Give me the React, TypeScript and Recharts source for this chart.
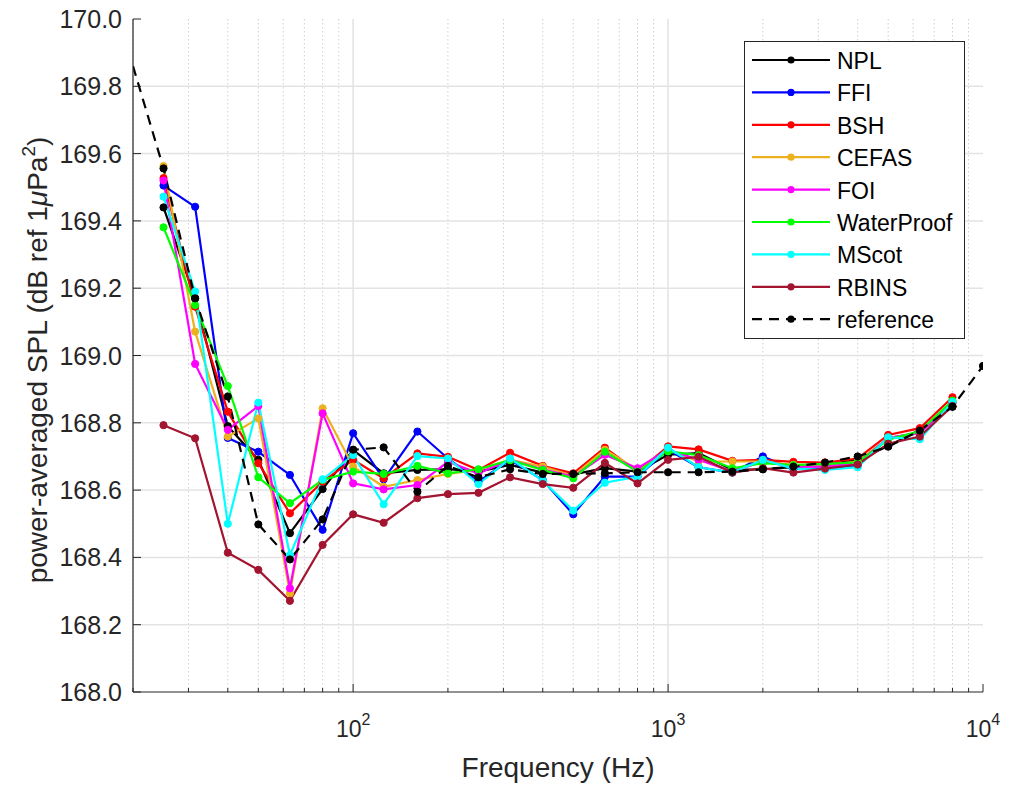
import React from 'react';
import { LineChart, Line, XAxis, YAxis, CartesianGrid } from 'recharts';

const freqs = [25, 31.5, 40, 50, 63, 80, 100, 125, 160, 200, 250, 315, 400, 500, 630, 800, 1000, 1250, 1600, 2000, 2500, 3150, 4000, 5000, 6300, 8000];
const refFreqs = [20, 25, 31.5, 40, 50, 63, 80, 100, 125, 160, 200, 250, 315, 400, 500, 630, 800, 1000, 1250, 1600, 2000, 2500, 3150, 4000, 5000, 6300, 8000, 10000];

const npl = [169.44, 169.17, 168.79, 168.69, 168.472, 168.603, 168.719, 168.65, 168.66, 168.662, 168.655, 168.675, 168.652, 168.647, 168.665, 168.655, 168.705, 168.71, 168.66, 168.662, 168.668, 168.675, 168.69, 168.731, 168.779, 168.848];
const ffi = [169.505, 169.442, 168.755, 168.714, 168.645, 168.482, 168.769, 168.632, 168.774, 168.694, 168.625, 168.69, 168.63, 168.528, 168.64, 168.64, 168.72, 168.668, 168.652, 168.7, 168.662, 168.665, 168.672, 168.755, 168.77, 168.86];
const bsh = [169.527, 169.145, 168.833, 168.68, 168.531, 168.625, 168.69, 168.635, 168.709, 168.699, 168.66, 168.711, 168.672, 168.65, 168.726, 168.655, 168.73, 168.721, 168.687, 168.69, 168.684, 168.682, 168.694, 168.764, 168.784, 168.876];
const cefas = [169.563, 169.071, 168.759, 168.813, 168.293, 168.843, 168.67, 168.61, 168.63, 168.648, 168.66, 168.69, 168.67, 168.642, 168.72, 168.66, 168.72, 168.685, 168.685, 168.685, 168.675, 168.675, 168.685, 168.755, 168.77, 168.865];
const foi = [169.52, 168.975, 168.779, 168.85, 168.308, 168.828, 168.62, 168.602, 168.615, 168.684, 168.65, 168.69, 168.662, 168.64, 168.705, 168.665, 168.72, 168.69, 168.655, 168.685, 168.67, 168.67, 168.68, 168.755, 168.77, 168.86];
const waterproof = [169.381, 169.15, 168.909, 168.638, 168.561, 168.63, 168.655, 168.648, 168.672, 168.65, 168.662, 168.689, 168.66, 168.635, 168.714, 168.655, 168.715, 168.704, 168.665, 168.68, 168.674, 168.678, 168.682, 168.75, 168.775, 168.866];
const mscot = [169.472, 169.19, 168.5, 168.86, 168.407, 168.632, 168.704, 168.558, 168.701, 168.694, 168.618, 168.694, 168.628, 168.539, 168.622, 168.64, 168.726, 168.668, 168.652, 168.69, 168.664, 168.66, 168.668, 168.757, 168.751, 168.862];
const rbins = [168.793, 168.754, 168.414, 168.363, 168.271, 168.437, 168.528, 168.503, 168.576, 168.588, 168.592, 168.638, 168.618, 168.607, 168.681, 168.62, 168.69, 168.699, 168.652, 168.665, 168.652, 168.664, 168.676, 168.738, 168.759, 168.85];
const reference = [169.86, 169.556, 169.17, 168.878, 168.498, 168.394, 168.513, 168.72, 168.727, 168.595, 168.672, 168.638, 168.662, 168.648, 168.648, 168.65, 168.653, 168.653, 168.653, 168.655, 168.662, 168.67, 168.682, 168.7, 168.729, 168.777, 168.848, 168.969];

const seriesNames = ['NPL', 'FFI', 'BSH', 'CEFAS', 'FOI', 'WaterProof', 'MScot', 'RBINS'];
const seriesValues = [npl, ffi, bsh, cefas, foi, waterproof, mscot, rbins];
const seriesColors = ['#000000', '#0000ff', '#ff0000', '#edb120', '#ff00ff', '#00ff00', '#00ffff', '#a2142f'];
const referenceName = 'reference';

const yTicks = [168.0, 168.2, 168.4, 168.6, 168.8, 169.0, 169.2, 169.4, 169.6, 169.8, 170.0];
const xMajorTicks = [100, 1000, 10000];
const xMinorTicks = [20, 30, 40, 50, 60, 70, 80, 90, 200, 300, 400, 500, 600, 700, 800, 900, 2000, 3000, 4000, 5000, 6000, 7000, 8000, 9000];
const xAllTicks = [...xMinorTicks, ...xMajorTicks].sort((a, b) => a - b);

const xLabel = 'Frequency (Hz)';

const AX = '#262626';
const FONT = '"Liberation Sans", Arial, Helvetica, sans-serif';

const seriesData = seriesValues.map((vals) => freqs.map((f, i) => ({ f, v: vals[i] })));
const refData = refFreqs.map((f, i) => ({ f, v: reference[i] }));

const BottomTick = (props: any) => {
  const { x, y, payload } = props;
  const v = payload.value;
  const major = xMajorTicks.includes(v);
  const exp = Math.round(Math.log10(v));
  return (
    <g>
      <line x1={x} x2={x} y1={y} y2={y - (major ? 8 : 4)} stroke={AX} strokeWidth={1} />
      {major && (
        <text x={x} y={y + 45} textAnchor="middle" fill={AX} fontSize={23} fontFamily={FONT}>
          10<tspan dy={-12} fontSize={16}>{exp}</tspan>
        </text>
      )}
    </g>
  );
};

const TopTick = (props: any) => {
  const { x, y, payload } = props;
  const major = xMajorTicks.includes(payload.value);
  return <line x1={x} x2={x} y1={y} y2={y + (major ? 8 : 4)} stroke={AX} strokeWidth={1} />;
};

const LeftTick = (props: any) => {
  const { x, y, payload } = props;
  return (
    <g>
      <line x1={x} x2={x + 8} y1={y} y2={y} stroke={AX} strokeWidth={1} />
      <text x={x - 11} y={y + 9} textAnchor="end" fill={AX} fontSize={25} fontFamily={FONT}>
        {Number(payload.value).toFixed(1)}
      </text>
    </g>
  );
};

const RightTick = (props: any) => {
  const { x, y } = props;
  return <line x1={x} x2={x - 8} y1={y} y2={y} stroke={AX} strokeWidth={1} />;
};

const RefDot = (props: any) => {
  const { cx, cy, payload, index } = props;
  if (payload.f === 20) return <g key={`rd-${index}`} />;
  return <circle key={`rd-${index}`} cx={cx} cy={cy} r={3.6} fill="#000" stroke="#000" />;
};

const Legend = () => {
  const rowH = 32.4;
  const items = [
    ...seriesNames.map((n, i) => ({ name: n, color: seriesColors[i], dashed: false })),
    { name: referenceName, color: '#000000', dashed: true },
  ];
  return (
    <svg width={221} height={298} style={{ position: 'absolute', left: 744, top: 41 }}>
      <rect x={0.5} y={0.5} width={220} height={297} fill="#fff" stroke={AX} strokeWidth={1} />
      {items.map((it, i) => {
        const cy = 19 + i * rowH;
        return (
          <g key={it.name}>
            <line
              x1={8}
              x2={86}
              y1={cy}
              y2={cy}
              stroke={it.color}
              strokeWidth={2.2}
              strokeDasharray={it.dashed ? '10 7' : undefined}
            />
            <circle cx={47} cy={cy} r={3.6} fill={it.color} />
            <text x={93} y={cy + 9} fill="#000" fontSize={23} fontFamily={FONT}>
              {it.name}
            </text>
          </g>
        );
      })}
    </svg>
  );
};

export default function App() {
  return (
    <div style={{ position: 'absolute', left: 0, top: 0, width: 1012, height: 785, background: '#fff' }}>
      <LineChart width={1012} height={785} margin={{ top: 19, right: 29, left: 0, bottom: 0 }}>
        <CartesianGrid
          verticalValues={xMinorTicks}
          horizontal={false}
          stroke="#cfcfcf"
          strokeDasharray="1.5 2.5"
          strokeWidth={1}
        />
        <CartesianGrid
          verticalValues={[100, 1000]}
          horizontalValues={yTicks.slice(1, -1)}
          stroke="#e3e3e3"
          strokeWidth={1.5}
        />
        <XAxis
          dataKey="f"
          type="number"
          scale="log"
          domain={[20, 10000]}
          ticks={xAllTicks}
          interval={0}
          allowDataOverflow
          height={93}
          tickSize={0}
          tickMargin={0}
          tickLine={false}
          axisLine={{ stroke: AX, strokeWidth: 1.2 }}
          tick={<BottomTick />}
        />
        <XAxis
          xAxisId="top"
          orientation="top"
          dataKey="f"
          type="number"
          scale="log"
          domain={[20, 10000]}
          ticks={xAllTicks}
          interval={0}
          allowDataOverflow
          height={0}
          tickSize={0}
          tickMargin={0}
          tickLine={false}
          axisLine={{ stroke: AX, strokeWidth: 1.2 }}
          tick={<TopTick />}
        />
        <YAxis
          type="number"
          domain={[168, 170]}
          ticks={yTicks}
          interval={0}
          allowDataOverflow
          width={133}
          tickSize={0}
          tickMargin={0}
          tickLine={false}
          axisLine={{ stroke: AX, strokeWidth: 1.2 }}
          tick={<LeftTick />}
        />
        <YAxis
          yAxisId="right"
          orientation="right"
          type="number"
          domain={[168, 170]}
          ticks={yTicks}
          interval={0}
          allowDataOverflow
          width={0}
          tickSize={0}
          tickMargin={0}
          tickLine={false}
          axisLine={{ stroke: AX, strokeWidth: 1.2 }}
          tick={<RightTick />}
        />
        {seriesData.map((d, i) => (
          <Line
            key={seriesNames[i]}
            data={d}
            dataKey="v"
            name={seriesNames[i]}
            stroke={seriesColors[i]}
            strokeWidth={2.2}
            dot={{ r: 3.6, fill: seriesColors[i], stroke: seriesColors[i], strokeWidth: 1 }}
            activeDot={false}
            isAnimationActive={false}
          />
        ))}
        <Line
          data={refData}
          dataKey="v"
          name={referenceName}
          stroke="#000"
          strokeWidth={2.2}
          strokeDasharray="10 7"
          dot={RefDot}
          activeDot={false}
          isAnimationActive={false}
        />
      </LineChart>
      <svg width={1012} height={785} style={{ position: 'absolute', left: 0, top: 0, pointerEvents: 'none' }}>
        <text x={558} y={777} textAnchor="middle" fill={AX} fontSize={28} fontFamily={FONT}>
          {xLabel}
        </text>
        <text
          transform="translate(47,360) rotate(-90)"
          textAnchor="middle"
          fill={AX}
          fontSize={28}
          fontFamily={FONT}
        >
          power-averaged SPL (dB ref 1<tspan fontStyle="italic">μ</tspan>Pa<tspan dy={-12} fontSize={19}>2</tspan>
          <tspan dy={12}>)</tspan>
        </text>
      </svg>
      <Legend />
    </div>
  );
}
